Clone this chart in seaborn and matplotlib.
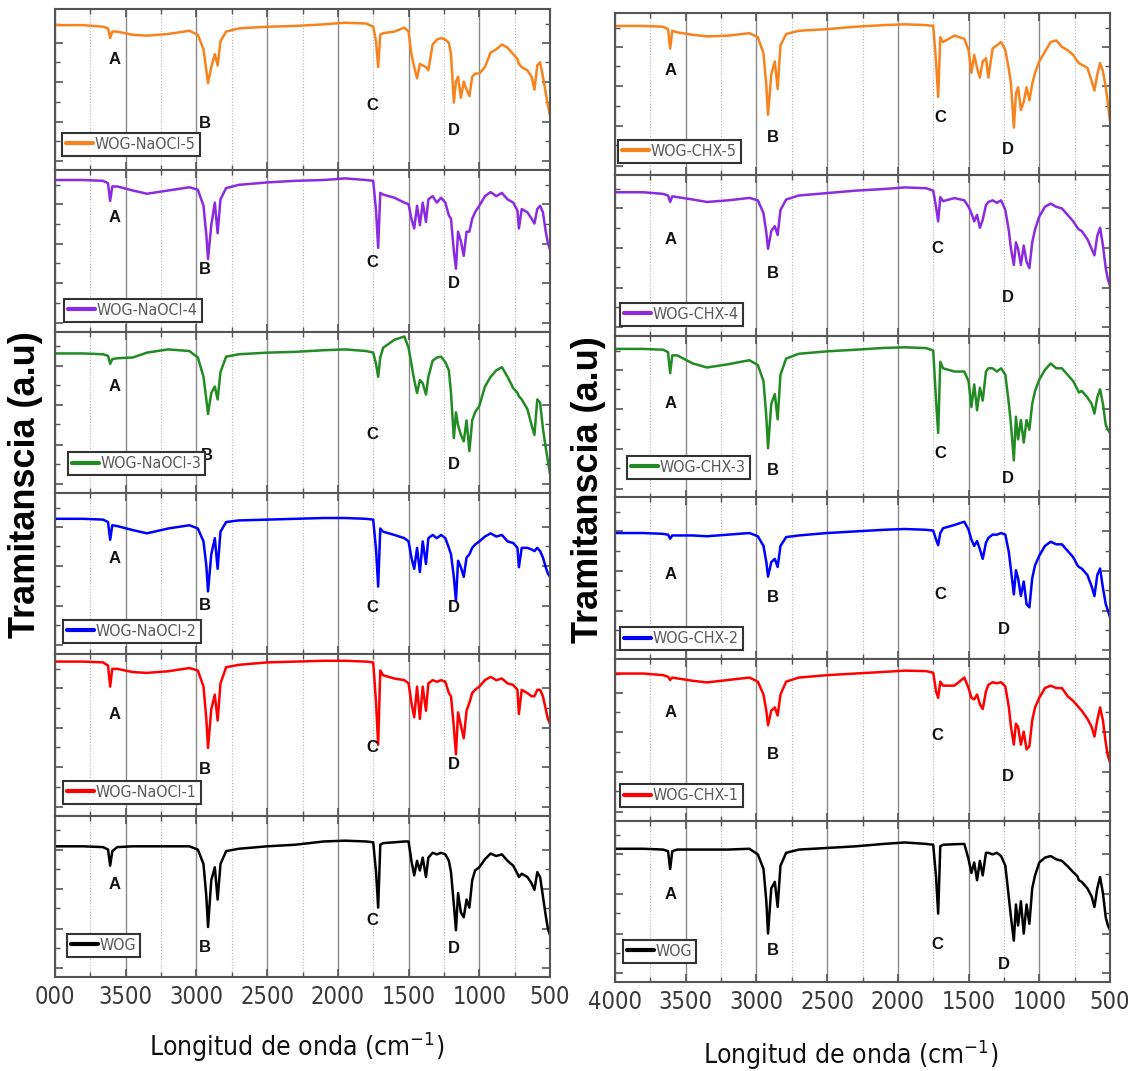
import matplotlib
matplotlib.use("Agg")
import matplotlib.pyplot as plt
import seaborn as sns
import pandas as pd
from matplotlib.ticker import MultipleLocator, FixedLocator

sns.set_style("white")
plt.rcParams['font.family'] = ['Liberation Sans', 'DejaVu Sans']

# wavenumber grid (cm-1), shared by every spectrum
wn = [4000, 3800, 3660, 3625, 3610, 3595, 3560, 3450, 3350, 3200,
      3050, 2990, 2950, 2930, 2918, 2895, 2870, 2850, 2830, 2790,
      2700, 2500, 2300, 2100, 1950, 1800, 1750, 1730, 1715, 1700,
      1680, 1600, 1530, 1500, 1480, 1460, 1440, 1420, 1400, 1377,
      1360, 1330, 1300, 1270, 1240, 1215, 1200, 1180, 1165, 1150,
      1130, 1110, 1090, 1070, 1050, 1030, 1000, 960, 920, 880,
      840, 800, 760, 730, 720, 700, 660, 630, 610, 590,
      570, 550, 530, 515, 500]

# transmittance (a.u., 0 = panel bottom, 100 = panel top)
naocl5 = [90, 90, 89, 88, 82, 86, 86, 84, 83.5, 84.5,
          86.5, 84, 75, 62, 54, 64, 72, 65, 80, 86,
          88, 89, 89.5, 90.5, 91.5, 91, 89, 80, 64, 84,
          85, 86, 88.5, 86, 72, 64, 57, 66, 65, 64,
          62, 78, 81, 82, 81, 79, 72, 42, 55, 58,
          45, 55, 50, 46, 58, 60, 60, 64, 73, 75,
          78, 76, 72, 69, 66, 64, 62, 58, 50, 65,
          67, 58, 48, 40, 34]
naocl4 = [94, 94, 93.5, 92, 81, 90, 90, 87.5, 85.5, 87.5,
          89.5, 88, 78, 60, 45, 66, 80, 61, 82, 89,
          91, 92.5, 93.5, 94, 95, 94, 93.5, 75, 52, 86,
          85, 83, 80, 79, 70, 64, 78, 66, 80, 68,
          82, 84, 80, 83, 80, 72, 70, 50, 39, 62,
          56, 47, 62, 62, 70, 74, 78, 84, 86.5, 84,
          86, 82, 80, 75, 64, 76, 74, 70, 67, 76,
          78, 74, 62, 55, 51]
naocl3 = [86.5, 86.5, 86, 85, 80, 83, 83.5, 84, 87, 89,
          88, 84, 72, 58, 49, 62, 66, 58, 75, 84.5,
          86, 87, 87.5, 88.5, 89, 88, 87, 80, 72, 84,
          90, 95, 97, 90, 80, 70, 62, 70, 68, 61,
          72, 82, 84, 84.5, 81, 76, 62, 34, 50, 42,
          36, 32, 45, 26, 45, 50, 54, 66, 72, 76,
          78, 72, 65, 62, 60, 58, 52, 42, 36, 58,
          56, 40, 28, 20, 12]
naocl2 = [84, 84, 83.5, 82, 71, 80, 79.5, 77, 75, 78,
          80, 78, 70, 55, 39, 62, 72, 53, 76, 82,
          83, 83.5, 84, 84.5, 84.5, 84, 83.5, 65, 42, 78,
          76, 74, 72, 70, 60, 53, 66, 51, 70, 56,
          72, 74, 72, 74, 72, 66, 62, 48, 33, 58,
          54, 48, 60, 62, 66, 68, 70, 73, 75, 73,
          74, 70, 69, 66, 54, 66, 66, 65, 64, 66,
          64, 60, 54, 50, 48]
naocl1 = [95.5, 95.5, 95, 93, 80, 91, 91, 89, 88.5, 89.5,
          91.5, 90, 80, 60, 42, 66, 75, 59, 82, 92,
          93.5, 95, 95.5, 96, 96, 95.5, 95, 70, 44, 90,
          87, 85, 84, 82, 70, 61, 80, 60, 80, 65,
          82, 84, 83, 84, 83, 76, 74, 55, 38, 64,
          56, 48, 65, 70, 76, 78, 80, 84, 86, 84,
          85, 82, 81, 78, 63, 78, 76, 74, 74, 78,
          78, 74, 66, 60, 57]
wog_left = [81, 81, 80.5, 79, 69, 78, 80.5, 81, 81, 81,
            81, 79, 70, 50, 31, 60, 68, 48, 70, 78,
            79.5, 81, 82, 84, 84.5, 84, 83.5, 65, 43, 82,
            83, 83.5, 84, 84, 72, 63, 72, 66, 74, 62,
            74, 77, 76, 77, 76, 72, 65, 45, 29, 52,
            40, 37, 48, 43, 60, 66, 68, 73, 76.5, 75,
            76, 72, 69, 64, 62, 64, 62, 58, 54, 65,
            62, 50, 38, 30, 26]

chx5 = [92, 92, 91.5, 90, 78, 89, 88, 86.5, 85.5, 86,
        87.5, 85, 75, 55, 37, 62, 70, 53, 80, 87,
        89, 90, 91.5, 92.5, 93, 92.5, 92, 70, 48, 85,
        82, 86, 84, 77, 63, 74, 66, 60, 70, 72,
        60, 78, 80, 82, 77, 65, 56, 29, 50, 54,
        40, 45, 54, 46, 56, 63, 70, 76, 82, 83,
        79, 77, 74, 70, 69, 68, 66, 58, 52, 62,
        69, 64, 54, 44, 33]
chx4 = [89, 89, 88, 87, 83, 86.5, 86, 84.5, 83, 84,
        85.5, 84, 76, 64, 54, 65, 68, 62.5, 78, 84.5,
        87, 88.5, 90, 91, 92, 91.5, 90, 80, 71, 86,
        83.5, 85.4, 84, 80, 76, 71, 75, 67, 72, 81,
        83, 84, 82.5, 84, 78, 65, 54, 44, 58, 54,
        44, 56, 46, 42, 58, 66, 74, 80, 82, 80,
        79, 75, 71, 67, 66, 65, 60, 54, 50, 62,
        67, 56, 42, 35, 31]
chx3 = [92, 92, 91.5, 90, 77, 88, 88, 83, 80.5, 82.5,
        85, 82, 72, 50, 30.5, 58, 64, 48.4, 76, 86,
        89, 90.5, 91.5, 92.6, 93, 92.5, 91, 60, 40, 84,
        80, 78, 78, 72, 56, 70, 54, 68, 60, 78,
        80, 80, 78, 80, 76, 58, 45, 23, 50, 36,
        48, 34, 48, 42, 58, 66, 73, 79, 83, 80,
        80, 76, 72, 67, 65, 66, 62, 58, 52, 62,
        67, 58, 45, 42, 40]
chx2 = [78, 78, 77.5, 77, 74.5, 76.5, 76.5, 76.5, 76, 77,
        78, 76, 70, 60, 51, 60, 62, 57, 70, 75.5,
        76.5, 78, 79, 80, 80.5, 80, 79.5, 74, 70.5, 78,
        81, 83, 85, 80, 74, 70, 73, 68, 62, 72,
        75, 77, 77, 78, 77, 66, 55, 40, 55, 50,
        39, 48, 34, 32, 50, 58, 64, 70, 72.6, 71,
        71, 67, 63, 58, 57, 56, 52, 45, 39, 52,
        56, 44, 34, 30, 26]
chx1 = [91, 91, 90, 89, 87, 88.5, 88, 86.5, 85.5, 87,
        88.5, 86, 78, 68, 59, 68, 70, 65, 78, 86,
        88.5, 90, 91, 92, 92.8, 92.5, 91.5, 80, 76, 86,
        83.5, 83.5, 88.5, 82, 76, 75, 78, 72, 69, 80,
        84, 85.6, 85, 85.6, 83, 70, 58, 47, 60, 58,
        47, 55, 44, 46, 62, 70, 76, 82, 83.5, 82,
        82, 77, 74, 71, 70, 68, 63, 58, 52, 62,
        70, 62, 48, 40, 36]
wog_right = [82.5, 82.5, 82, 81, 70, 81, 82, 82, 82, 82,
             82.5, 79, 70, 50, 30, 58, 62, 46.5, 72, 80,
             82, 83, 84, 85.5, 86.4, 85.5, 85, 65, 42.3, 84,
             85, 85.3, 85.5, 76, 67.5, 74, 63, 75, 66, 80,
             80, 79, 80, 78, 72, 52, 40, 25.6, 48, 35,
             50, 30, 48, 36, 58, 66, 74, 77, 78, 76,
             75, 71.7, 68, 65.4, 63, 62, 58, 53, 46.5, 58,
             65, 55, 40, 35, 32]

left_names = ["WOG-NaOCl-5", "WOG-NaOCl-4", "WOG-NaOCl-3",
              "WOG-NaOCl-2", "WOG-NaOCl-1", "WOG"]
right_names = ["WOG-CHX-5", "WOG-CHX-4", "WOG-CHX-3",
               "WOG-CHX-2", "WOG-CHX-1", "WOG"]
left_series = [naocl5, naocl4, naocl3, naocl2, naocl1, wog_left]
right_series = [chx5, chx4, chx3, chx2, chx1, wog_right]
colors = ["#f7831e", "#8a2be2", "#238b23", "#0000ff", "#ff0000", "#000000"]

tick_vals = [4000, 3500, 3000, 2500, 2000, 1500, 1000, 500]
left_ticklabels = ["000", "3500", "3000", "2500", "2000", "1500", "1000", "500"]
right_ticklabels = ["4000", "3500", "3000", "2500", "2000", "1500", "1000", "500"]

# peak letter placement (wavenumber, height) per panel: A, B, C, D
left_letters = [
    [(3580, 69), (2942, 29), (1753, 40), (1183, 24.5)],
    [(3580, 71), (2942, 38.5), (1753, 43), (1183, 30)],
    [(3580, 66), (2925, 23), (1753, 36), (1183, 17.5)],
    [(3580, 59.5), (2942, 30), (1753, 29), (1183, 29)],
    [(3580, 63), (2942, 28.5), (1753, 42), (1183, 31.5)],
    [(3580, 57.5), (2942, 18.5), (1753, 35), (1183, 17.5)],
]
right_letters = [
    [(3607, 64.5), (2883, 23), (1699, 35.5), (1224, 15.5)],
    [(3607, 59.5), (2883, 38.5), (1720, 54), (1224, 24)],
    [(3607, 58), (2883, 17), (1699, 27.5), (1224, 11.5)],
    [(3607, 52.5), (2883, 38), (1699, 40), (1250, 18)],
    [(3607, 67), (2883, 41), (1720, 52.5), (1224, 27)],
    [(3607, 54), (2883, 19.5), (1720, 23.5), (1250, 11)],
]
left_legend_pos = [(0.014, 0.09), (0.018, 0.06), (0.026, 0.11),
                   (0.016, 0.073), (0.016, 0.074), (0.024, 0.126)]
right_legend_pos = [(0.006, 0.073), (0.01, 0.062), (0.024, 0.116),
                    (0.01, 0.053), (0.01, 0.082), (0.016, 0.12)]

W, H = 1128, 1071
fig = plt.figure(figsize=(W / 100, H / 100), dpi=100)
narrow = dict(family=["DejaVu Sans"], fontstretch="condensed")


def draw_column(x0, x1, y_top, y_bot, names, series, letters, leg_pos, ticklabels):
    h = (y_bot - y_top) / 6
    for i in range(6):
        top = y_top + i * h
        ax = fig.add_axes([x0 / W, 1 - (top + h) / H, (x1 - x0) / W, h / H])
        df = pd.DataFrame({"wn": wn, "T": series[i]})
        sns.lineplot(data=df, x="wn", y="T", ax=ax, color=colors[i],
                     linewidth=1.8, sort=False, label=names[i])
        ax.set_xlim(4000, 500)
        ax.set_ylim(0, 100)
        ax.set_xlabel("")
        ax.set_ylabel("")

        ax.xaxis.set_major_locator(FixedLocator(tick_vals))
        ax.xaxis.set_minor_locator(MultipleLocator(250))
        ax.yaxis.set_major_locator(FixedLocator([5.5, 30, 54.5, 79]))
        ax.yaxis.set_minor_locator(FixedLocator([18, 42.5, 67, 91]))
        ax.grid(which="major", axis="x", color="#8a8a8a", linewidth=1.0)
        ax.grid(which="minor", axis="x", color="#b5b5b5", linewidth=0.8, linestyle=":")
        ax.tick_params(which="both", direction="in", top=True, bottom=True,
                       left=True, right=True, labelleft=False, color="#555555")
        ax.tick_params(which="major", length=6, width=1.2)
        ax.tick_params(which="minor", length=3.5, width=1.0)
        for sp in ax.spines.values():
            sp.set_color("#555555")
            sp.set_linewidth(1.5)

        if i < 5:
            ax.tick_params(axis="x", labelbottom=False)
        else:
            ax.set_xticks(tick_vals)
            ax.set_xticklabels(ticklabels, fontsize=17, color="#3a3a3a", **narrow)
            ax.tick_params(axis="x", pad=6)

        for letter, (lx, ly) in zip("ABCD", letters[i]):
            ax.text(lx, ly, letter, ha="center", va="center", fontsize=12,
                    fontweight="bold", color="#111111",
                    family=["Liberation Sans", "DejaVu Sans"])

        leg = ax.legend(loc="lower left", bbox_to_anchor=leg_pos[i], borderaxespad=0,
                        handlelength=1.7, handletextpad=0.1,
                        borderpad=0.25, fancybox=False, framealpha=1,
                        edgecolor="#333333",
                        prop=dict(size=11.5, family=["DejaVu Sans"], stretch="condensed"))
        leg.get_frame().set_linewidth(1.5)
        for t in leg.get_texts():
            t.set_color("#5a5a5a")
        for ln in leg.get_lines():
            ln.set_linewidth(3)


draw_column(55, 550, 9, 977, left_names, left_series, left_letters,
            left_legend_pos, left_ticklabels)
draw_column(615, 1110, 13, 982, right_names, right_series, right_letters,
            right_legend_pos, right_ticklabels)

ylab_font = ["Liberation Sans", "DejaVu Sans"]
fig.text(26 / W, 1 - 485 / H, "Tramitanscia (a.u)", rotation=90, ha="center",
         va="center", fontsize=26, fontweight="bold", color="black", family=ylab_font)
fig.text(588 / W, 1 - 490 / H, "Tramitanscia (a.u)", rotation=90, ha="center",
         va="center", fontsize=26, fontweight="bold", color="black", family=ylab_font)
fig.text(297 / W, 1 - 1047 / H, r"Longitud de onda (cm$^{\mathregular{-1}}$)",
         ha="center", va="center", fontsize=19, color="#111111", **narrow)
fig.text(851 / W, 1 - 1055 / H, r"Longitud de onda (cm$^{\mathregular{-1}}$)",
         ha="center", va="center", fontsize=19, color="#111111", **narrow)

fig.savefig("out.png", dpi=100)
